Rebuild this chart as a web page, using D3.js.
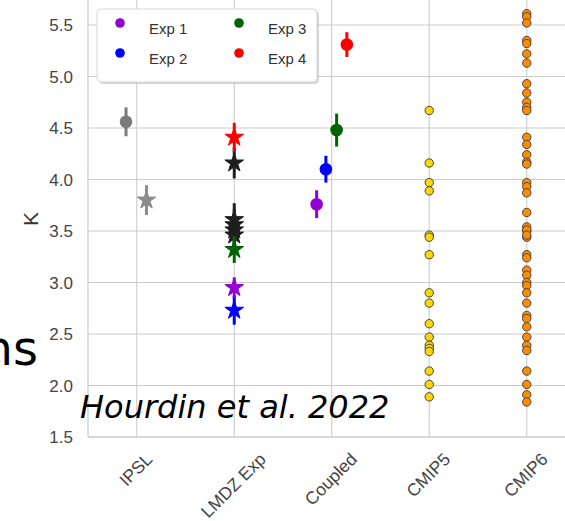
<!DOCTYPE html>
<html><head><meta charset="utf-8">
<script src="https://cdn.jsdelivr.net/npm/d3@7"></script>
<style>body{margin:0;background:#fff;}svg{display:block;}</style>
</head><body>
<svg id="c" width="565" height="521"></svg>
<script>
// ---- data ----
const categories = ["IPSL", "LMDZ Exp", "Coupled", "CMIP5", "CMIP6"];
const yTicks = [1.5, 2.0, 2.5, 3.0, 3.5, 4.0, 4.5, 5.0, 5.5];
const legendLabels = ["Exp 1", "Exp 2", "Exp 3", "Exp 4"];
const expColors = ["#9400d3", "#0000ff", "#006400", "#ff0000"];

// IPSL: circle (coupled) and star (atmosphere-only)
const ipslCircle = {value: 4.56, err: 0.14};
const ipslStar = {value: 3.80, err: 0.145};

// LMDZ experiments (stars): black = other runs, colored = Exp 1..4
const lmdzBlackValues = [4.16, 3.61, 3.56, 3.51, 3.46];
const lmdzBlackErr = [0.15, 0.16, 0.15, 0.15, 0.15];
const lmdzExpValues = [2.95, 2.73, 3.32, 4.41];
const lmdzExpErr = [0.10, 0.14, 0.13, 0.14];

// Coupled runs (circles) Exp 1..4
const coupledValues = [3.76, 4.10, 4.48, 5.31];
const coupledErr = [0.135, 0.13, 0.16, 0.12];

// CMIP ensembles
const cmip5Values = [4.67, 4.16, 3.97, 3.89, 3.46, 3.44, 3.27, 2.90, 2.80, 2.60, 2.47, 2.39, 2.36, 2.33, 2.14, 2.01, 1.89];
const cmip6Values = [5.61, 5.58, 5.52, 5.35, 5.32, 5.22, 5.13, 4.93, 4.84, 4.75, 4.70, 4.67, 4.41, 4.34, 4.24, 4.17, 4.15,
  3.97, 3.93, 3.87, 3.68, 3.54, 3.50, 3.44, 3.51, 3.46, 3.27, 3.24, 3.12, 3.07, 3.00, 2.97, 2.90, 2.80, 2.68, 2.65,
  2.57, 2.47, 2.39, 2.34, 2.14, 2.01, 1.91, 1.84];

// dodge offsets (fraction of category step)
const ipslDodge = [-0.11, 0.10];
const coupledDodge = [-0.155, -0.06, 0.05, 0.155];

// ---- layout ----
const svg = d3.select("#c");
const plotLeft = 88, plotRight = 575.5, plotBottom = 437, plotTop = -10;
const x = d3.scaleBand().domain(categories).range([plotLeft, plotRight]).padding(0);
const step = x.step();
const cx = c => x(c) + x.bandwidth() / 2;
const y = d3.scaleLinear().domain([1.5, 5.5]).range([437, 25]);

const gridColor = "#cccccc";
const tickFont = "'Liberation Sans', Arial, sans-serif";

// grid
const g = svg.append("g");
g.selectAll("line.h").data(yTicks).join("line")
  .attr("x1", plotLeft).attr("x2", 565).attr("y1", d => y(d)).attr("y2", d => y(d))
  .attr("stroke", gridColor).attr("stroke-width", 1.1);
g.selectAll("line.v").data(categories).join("line")
  .attr("x1", d => cx(d)).attr("x2", d => cx(d)).attr("y1", plotTop).attr("y2", plotBottom)
  .attr("stroke", gridColor).attr("stroke-width", 1.1);
// spines
g.append("line").attr("x1", plotLeft).attr("x2", plotLeft).attr("y1", plotTop).attr("y2", plotBottom).attr("stroke", gridColor).attr("stroke-width", 1.2);
g.append("line").attr("x1", plotLeft).attr("x2", 565).attr("y1", plotBottom).attr("y2", plotBottom).attr("stroke", gridColor).attr("stroke-width", 1.2);

// y tick labels
svg.append("g").selectAll("text").data(yTicks).join("text")
  .attr("x", 73).attr("y", d => y(d)).attr("dy", "0.36em")
  .attr("text-anchor", "end").attr("font-family", tickFont).attr("font-size", 17)
  .attr("fill", "#444").text(d => d.toFixed(1));

// x tick labels rotated 45
const xl = svg.append("g");
categories.forEach(c => {
  const t = xl.append("text").attr("font-family", tickFont).attr("font-size", 17.5)
    .attr("fill", "#444").attr("text-anchor", "middle").attr("dy", "0.35em").text(c);
  const w = t.node().getComputedTextLength();
  const cy = 450 + (w + 17) / (2 * Math.SQRT2);
  t.attr("transform", `translate(${cx(c) - 1},${cy}) rotate(-45)`);
});

// y label
svg.append("text").attr("transform", "translate(31,219) rotate(-90)")
  .attr("text-anchor", "middle").attr("dy", "0.35em")
  .attr("font-family", tickFont).attr("font-size", 21).attr("fill", "#333").text("K");

// helpers
const marks = svg.append("g");
function errbar(px, v, e, color) {
  marks.append("line").attr("x1", px).attr("x2", px).attr("y1", y(v - e)).attr("y2", y(v + e))
    .attr("stroke", color).attr("stroke-width", 3);
}
const starPath = d3.symbol().type(d3.symbolStar).size(108);
function star(px, v, color) {
  marks.append("path").attr("d", starPath()).attr("transform", `translate(${px},${y(v)})`)
    .attr("fill", color).attr("stroke", color).attr("stroke-width", 1);
}
function dot(px, v, color, r) {
  marks.append("circle").attr("cx", px).attr("cy", y(v)).attr("r", r).attr("fill", color);
}

// IPSL
{
  const px = cx("IPSL") + ipslDodge[0] * step;
  errbar(px, ipslCircle.value, ipslCircle.err, "#7a7a7a");
  dot(px, ipslCircle.value, "#7a7a7a", 6.3);
  const ps = cx("IPSL") + ipslDodge[1] * step;
  errbar(ps, ipslStar.value, ipslStar.err, "#8c8c8c");
  star(ps, ipslStar.value, "#8c8c8c");
}

// LMDZ Exp
{
  const px = cx("LMDZ Exp");
  lmdzBlackValues.forEach((v, i) => { errbar(px, v, lmdzBlackErr[i], "#1e1e1e"); star(px, v, "#1e1e1e"); });
  [1, 0, 2, 3].forEach(i => { errbar(px, lmdzExpValues[i], lmdzExpErr[i], expColors[i]); star(px, lmdzExpValues[i], expColors[i]); });
}

// Coupled
coupledValues.forEach((v, i) => {
  const px = cx("Coupled") + coupledDodge[i] * step;
  errbar(px, v, coupledErr[i], expColors[i]);
  dot(px, v, expColors[i], 6.3);
});

// CMIP5 / CMIP6
marks.append("g").selectAll("circle").data(cmip5Values).join("circle")
  .attr("cx", cx("CMIP5")).attr("cy", d => y(d)).attr("r", 4.2)
  .attr("fill", "#ffd700").attr("stroke", "#444").attr("stroke-width", 1);
marks.append("g").selectAll("circle").data(cmip6Values).join("circle")
  .attr("cx", cx("CMIP6")).attr("cy", d => y(d)).attr("r", 4.2)
  .attr("fill", "#ff8c00").attr("stroke", "#444").attr("stroke-width", 1);

// legend
const lg = svg.append("g");
lg.append("rect").attr("x", 99).attr("y", 11).attr("width", 220).attr("height", 73).attr("rx", 4)
  .attr("fill", "#bbb").attr("opacity", 0.6);
lg.append("rect").attr("x", 97).attr("y", 9).attr("width", 220).attr("height", 73).attr("rx", 4)
  .attr("fill", "#fff").attr("stroke", "#d6d6d6").attr("stroke-width", 1);
const legPos = [[120, 23], [120, 53], [239, 23], [239, 53]];
legendLabels.forEach((l, i) => {
  const [lx, ly] = legPos[i];
  lg.append("circle").attr("cx", lx).attr("cy", ly).attr("r", 4.8).attr("fill", expColors[i]);
  lg.append("text").attr("x", lx + 29).attr("y", ly + 11).attr("font-family", tickFont)
    .attr("font-size", 15).attr("fill", "#333").text(l);
});

// overlay texts from the slide
svg.append("text").attr("x", 80).attr("y", 418).attr("font-family", "'DejaVu Sans', sans-serif")
  .attr("font-style", "italic").attr("font-size", 32).attr("fill", "#000").text("Hourdin et al. 2022");
svg.append("text").attr("x", 38).attr("y", 365).attr("text-anchor", "end")
  .attr("font-family", "'DejaVu Sans', sans-serif").attr("font-size", 48).attr("fill", "#000").text("ns");
</script>
</body></html>
